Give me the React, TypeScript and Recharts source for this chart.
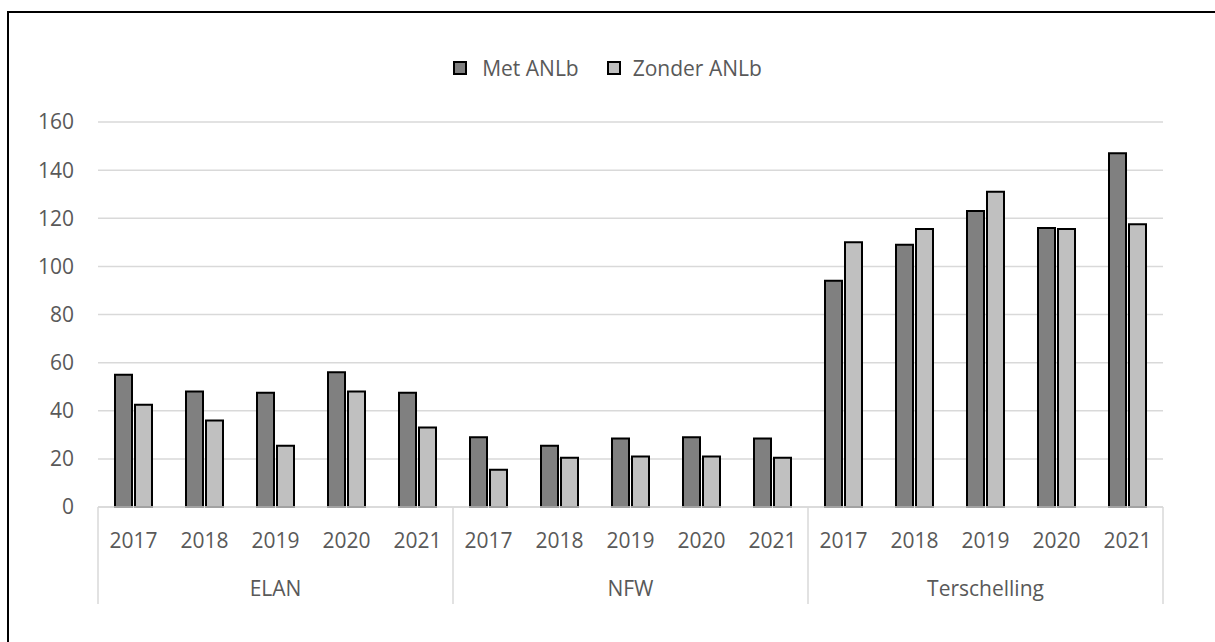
import React from 'react';
import { BarChart, Bar, XAxis, YAxis, CartesianGrid, Legend } from 'recharts';

const groups = ['ELAN', 'NFW', 'Terschelling'];
const years = ['2017', '2018', '2019', '2020', '2021'];
const metANLb = [55, 48, 47.5, 56, 47.5, 29, 25.5, 28.5, 29, 28.5, 94, 109, 123, 116, 147];
const zonderANLb = [42.5, 36, 25.5, 48, 33, 15.5, 20.5, 21, 21, 20.5, 110, 115.5, 131, 115.5, 117.5];
const yTicks = [0, 20, 40, 60, 80, 100, 120, 140, 160];
const seriesNames = ['Met ANLb', 'Zonder ANLb'];

const data = groups.flatMap((g, gi) =>
  years.map((y, yi) => ({
    key: `${g}-${y}`,
    group: g,
    year: y,
    met: metANLb[gi * years.length + yi],
    zonder: zonderANLb[gi * years.length + yi],
  }))
);

const TEXT = '#595959';
const GRID = '#D9D9D9';
const FONT = '"Open Sans", sans-serif';
const FS = 21;

const BAND = 71;

const CategoryTick = (props: any) => {
  const { x, y, payload } = props;
  const idx = payload.index as number;
  const d = data[idx];
  const perGroup = years.length;
  const pos = idx % perGroup;
  const elems: any[] = [];
  elems.push(
    <text key="yr" x={x} y={y + 41} textAnchor="middle" fill={TEXT} fontSize={FS} fontFamily={FONT}>
      {d.year}
    </text>
  );
  if (pos === 0) {
    elems.push(<line key="sepL" x1={x - BAND / 2} x2={x - BAND / 2} y1={y} y2={y + 97} stroke={GRID} strokeWidth={1.5} />);
  }
  if (idx === data.length - 1) {
    elems.push(<line key="sepR" x1={x + BAND / 2} x2={x + BAND / 2} y1={y} y2={y + 97} stroke={GRID} strokeWidth={1.5} />);
  }
  if (pos === Math.floor(perGroup / 2)) {
    elems.push(
      <text key="grp" x={x} y={y + 89} textAnchor="middle" fill={TEXT} fontSize={FS} fontFamily={FONT}>
        {d.group}
      </text>
    );
  }
  return <g>{elems}</g>;
};

const LegendContent = () => {
  const colors = ['#808080', '#C0C0C0'];
  return (
    <div style={{ display: 'flex', justifyContent: 'center', alignItems: 'center', width: 1215, paddingLeft: 0, boxSizing: 'border-box', height: 24 }}>
      {seriesNames.map((n, i) => (
        <div key={n} style={{ display: 'flex', alignItems: 'center', marginLeft: i === 0 ? 0 : 28 }}>
          <div style={{ width: 10, height: 10, background: colors[i], border: '2px solid #000' }} />
          <span style={{ marginLeft: i === 0 ? 15 : 12, color: TEXT, fontSize: FS, fontFamily: FONT, lineHeight: '24px' }}>{n}</span>
        </div>
      ))}
    </div>
  );
};

export default function App() {
  return (
    <div style={{ position: 'absolute', left: 0, top: 0, width: 1215, height: 642, background: '#fff', fontFamily: FONT }}>
      <div style={{ position: 'absolute', left: 7, top: 11, width: 1220, height: 640, borderLeft: '2px solid #000', borderTop: '2px solid #000' }} />
      <div style={{ position: 'absolute', left: 0, top: 0 }}>
        <BarChart
          width={1215}
          height={642}
          data={data}
          margin={{ top: 122, right: 52, bottom: 35, left: 48 }}
          barSize={17}
          barGap={3}
        >
          <CartesianGrid vertical={false} stroke={GRID} strokeWidth={1.5} />
          <XAxis
            dataKey="key"
            interval={0}
            height={100}
            tickSize={0}
            tickMargin={0}
            tickLine={false}
            axisLine={{ stroke: GRID, strokeWidth: 1.5 }}
            tick={<CategoryTick />}
          />
          <YAxis
            width={50}
            domain={[0, 160]}
            ticks={yTicks}
            interval={0}
            tickSize={0}
            tickMargin={24}
            tickLine={false}
            axisLine={false}
            tick={{ fill: TEXT, fontSize: FS, fontFamily: FONT }}
          />
          <Legend verticalAlign="middle" layout="horizontal" content={<LegendContent />} wrapperStyle={{ top: 56, left: 0, width: 1215 }} />
          <Bar dataKey="met" name={seriesNames[0]} fill="#808080" stroke="#000" strokeWidth={2} isAnimationActive={false} />
          <Bar dataKey="zonder" name={seriesNames[1]} fill="#C0C0C0" stroke="#000" strokeWidth={2} isAnimationActive={false} />
        </BarChart>
      </div>
    </div>
  );
}
